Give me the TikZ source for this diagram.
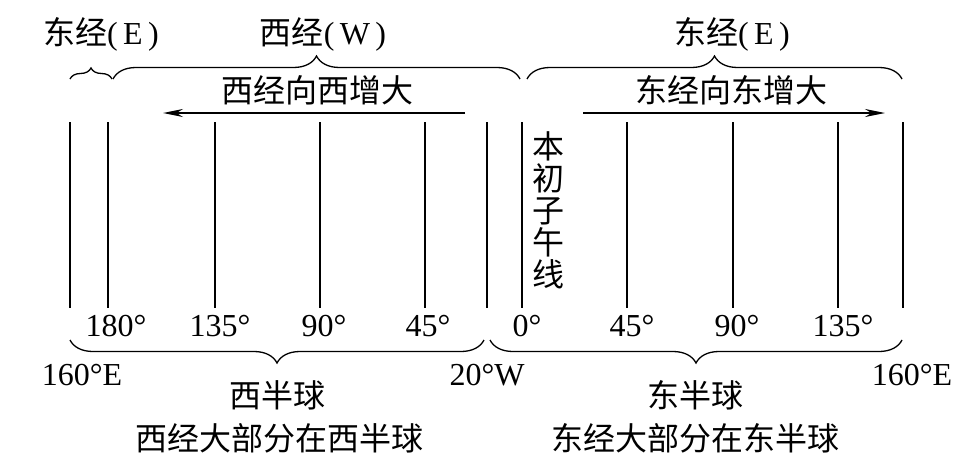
\documentclass[tikz,border=0pt]{standalone}
\usepackage{fontspec}
\setmainfont{Liberation Serif}
\newfontfamily\cjk{Noto Sans CJK SC}
\usetikzlibrary{arrows.meta,decorations.pathreplacing}

\begin{document}
\begin{tikzpicture}[x=1pt,y=-1pt,font=\fontsize{32}{32}\selectfont,inner sep=0pt,
mer/.style={line width=1.7pt},
brc/.style={decorate,decoration={brace,amplitude=#1},line width=1.3pt},
arr/.style={line width=1.5pt,-{Stealth[length=20pt,width=8pt]}}]
\useasboundingbox(0,0)rectangle(980,471);
\foreach\x in{70,108,215,320,425,487,522,627,733,838,903}\draw[mer](\x,122)--(\x,308);
\node(tEl)at(101,34){{\cjk 东经}(\,E\,)};\node(tW)at(323,34){{\cjk 西经}(\,W\,)};\node(tEr)at(732,34){{\cjk 东经}(\,E\,)};
\coordinate(b1)at(70,79);\coordinate(b2)at(112,79);\draw[brc=11pt](b1)--(b2);
\coordinate(b3)at(113,79);\coordinate(b4)at(520,79);\draw[brc=23pt](b3)--(b4);
\coordinate(b5)at(527,79);\coordinate(b6)at(902,79);\draw[brc=23pt](b5)--(b6);
\node(incW)at(317,90){\cjk 西经向西增大};\node(incE)at(731,90){\cjk 东经向东增大};
\coordinate(wa)at(465,113);\coordinate(wb)at(163,113);\draw[arr](wa)--(wb);
\coordinate(ea)at(583,113);\coordinate(eb)at(885,113);\draw[arr](ea)--(eb);
\node[align=center,font=\cjk\fontsize{32}{32}\selectfont](pm)at(548,210){本\\初\\子\\午\\线};
\node(w180)at(116,326){180°};\node(w135)at(220,326){135°};\node(w90)at(324,326){90°};\node(w45)at(428,326){45°};
\node(e0)at(527,326){0°};\node(e45)at(632,326){45°};\node(e90)at(737,326){90°};\node(e135)at(843,326){135°};
\coordinate(b7)at(484,340);\coordinate(b8)at(70,340);\draw[brc=23pt](b7)--(b8);
\coordinate(b9)at(902,340);\coordinate(b10)at(490,340);\draw[brc=23pt](b9)--(b10);
\node(l160)at(82,375){160°E};\node(m20)at(487,375){20°W};\node(r160)at(912,375){160°E};
\node(hW)at(277,395){\cjk 西半球};\node(hE)at(695,395){\cjk 东半球};
\node(nW)at(279,438){\cjk 西经大部分在西半球};\node(nE)at(695,438){\cjk 东经大部分在东半球};
\end{tikzpicture}
\end{document}
